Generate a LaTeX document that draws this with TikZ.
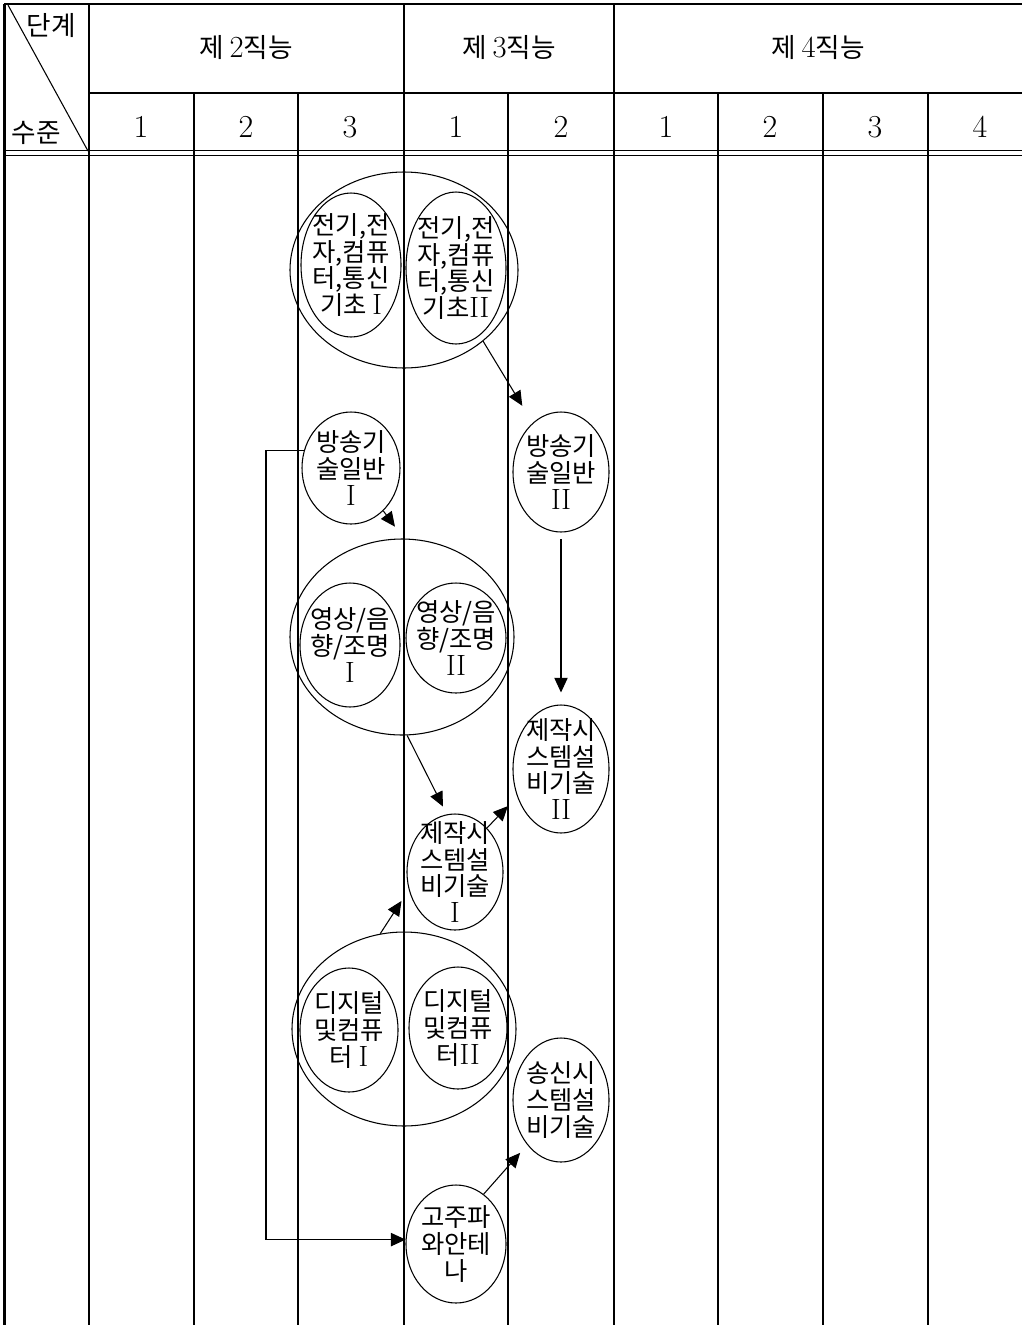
\documentclass[tikz,border=0pt]{standalone}
\usepackage{fontspec}
\newfontfamily\kr{Noto Sans CJK KR}
\newfontfamily\lmr{Latin Modern Roman}
\usetikzlibrary{arrows.meta,shapes.geometric}
\newcommand\rnum[1]{{\lmr\fontsize{22}{20}\selectfont #1}}
\newcommand\dig[1]{{\lmr\fontsize{23}{23}\selectfont #1}}
\begin{document}
\begin{tikzpicture}[x=0.75pt,y=-0.75pt,
  thickl/.style={line width=2.2pt},
  thinl/.style={line width=0.8pt},
  ell/.style 2 args={draw, ellipse, line width=0.8pt, inner sep=-60pt,
    minimum width=#1*0.75pt, minimum height=#2*0.75pt, align=center,
    font=\kr\fontsize{19}{20}\selectfont},
  arr/.style={line width=0.8pt, -{Triangle[length=11pt,width=10pt]}},
  hdr/.style={font=\kr\fontsize{20}{20}\selectfont, inner sep=0pt},
  num/.style={font=\lmr\fontsize{24}{24}\selectfont, inner sep=0pt}
]
\useasboundingbox (0,0) rectangle (1022,1325);
% table frame
\draw[thickl] (4,4) -- (1022,4);
\draw[thickl] (4.5,4) -- (4.5,1325);
\draw[thickl] (89,4) -- (89,1325);
\draw[thickl] (404,4) -- (404,1325);
\draw[thickl] (614,4) -- (614,1325);
\foreach \x in {194,298,508,718,823,928}
  \draw[thinl] (\x,93) -- (\x,1325);
\draw[thinl] (89,93) -- (1022,93);
\draw[thinl] (4,150.5) -- (1022,150.5);
\draw[thinl] (4,155.5) -- (1022,155.5);
\draw[thinl] (8,5) -- (88,151);
% header texts
\node[hdr] (t1) at (51,26) {단계};
\node[hdr] (t2) at (36,133) {수준};
\node[hdr] (h2) at (246,48) {제 \dig{2}직능};
\node[hdr] (h3) at (509,48) {제 \dig{3}직능};
\node[hdr] (h4) at (818,48) {제 \dig{4}직능};
\node[num] (n21) at (141,127) {1};
\node[num] (n22) at (246,127) {2};
\node[num] (n23) at (350,127) {3};
\node[num] (n31) at (456,127) {1};
\node[num] (n32) at (561,127) {2};
\node[num] (n41) at (666,127) {1};
\node[num] (n42) at (770,127) {2};
\node[num] (n43) at (875,127) {3};
\node[num] (n44) at (980,127) {4};
% group 1
\node[ell={228}{196}] (A) at (404,270) {};
\node[ell={100}{144}] (a1) at (351,265) {전기,전\\자,컴퓨\\터,통신\\기초 \rnum{I}};
\node[ell={100}{152}] (a2) at (456,268) {전기,전\\자,컴퓨\\터,통신\\기초\rnum{II}};
% broadcasting
\node[ell={98}{112}] (b1) at (351,468) {방송기\\술일반\\\rnum{I}};
\node[ell={96}{120}] (b2) at (561,472) {방송기\\술일반\\\rnum{II}};
% group 2
\node[ell={224}{196}] (B) at (402,637) {};
\node[ell={100}{124}] (v1) at (350,645) {영상/음\\향/조명\\\rnum{I}};
\node[ell={100}{110}] (v2) at (456,638) {영상/음\\향/조명\\\rnum{II}};
% production systems
\node[ell={96}{128}] (m2) at (561,769) {제작시\\스템설\\비기술\\\rnum{II}};
\node[ell={96}{116}] (m1) at (455,872) {제작시\\스템설\\비기술\\\rnum{I}};
% group 3
\node[ell={224}{194}] (C) at (404,1029) {};
\node[ell={98}{124}] (d1) at (349,1030) {디지털\\및컴퓨\\터 \rnum{I}};
\node[ell={98}{122}] (d2) at (458,1028) {디지털\\및컴퓨\\터\rnum{II}};
% transmission / antenna
\node[ell={96}{124}] (s) at (561,1100) {송신시\\스템설\\비기술};
\node[ell={100}{118}] (k) at (456,1244) {고주파\\와안테\\나};
% connectors
\coordinate (elbowx) at (266,0);
\draw[arr, shorten >=15pt] (A.-42) -- (b2.120);
\draw[arr, shorten >=11pt] (b1.-53) -- (B.89);
\draw[arr, shorten <=5pt, shorten >=9pt] (b2.south) -- (m2.north);
\draw[arr, shorten >=6.5pt] (B.-87) -- (m1.98);
\draw[arr, shorten >=10pt] (m1.54) -- (m2.-148);
\draw[arr, shorten >=10pt] (C.104) -- (m1.-159);
\draw[arr, shorten >=8pt] (k.61) -- (s.-127);
\draw[arr] (b1.160) -- (b1.160 -| elbowx) |- (k.175);
\end{tikzpicture}
\end{document}
